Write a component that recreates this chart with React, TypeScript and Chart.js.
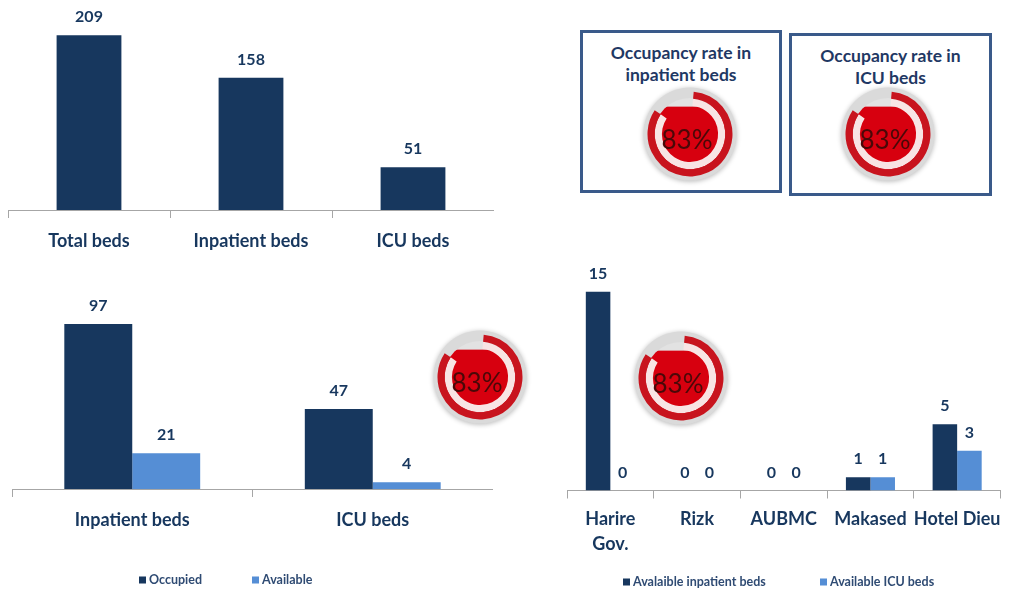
import React, { useEffect, useRef } from "react";
import { Chart, registerables } from "chart.js";

Chart.register(...registerables);

// ---------- data ----------
const bedCategories = ["Total beds", "Inpatient beds", "ICU beds"];
const bedCounts = [209, 158, 51];

const statusCategories = ["Inpatient beds", "ICU beds"];
const occupiedBeds = [97, 47];
const availableBeds = [21, 4];

const hospitals: (string | string[])[] = [["Harire", "Gov."], "Rizk", "AUBMC", "Makased", "Hotel Dieu"];
const availInpatientBeds = [15, 0, 0, 1, 5];
const availIcuBeds = [0, 0, 0, 1, 3];

const gaugeValues = [83, 83, 83, 83];
const gaugeTitles = [
  ["Occupancy rate in", "inpatient beds"],
  ["Occupancy rate in", "ICU beds"],
];

// ---------- styles ----------
const NAVY = "#17375E";
const LIGHT = "#558ED5";
const AXIS = "#A6A6A6";
const FONT = "Lato";

const valueLabels = {
  id: "valueLabels",
  afterDatasetsDraw(chart: any) {
    const ctx = chart.ctx;
    ctx.save();
    ctx.font = `bold 16px ${FONT}`;
    ctx.fillStyle = NAVY;
    ctx.textAlign = "center";
    ctx.textBaseline = "middle";
    chart.data.datasets.forEach((ds: any, i: number) => {
      const meta = chart.getDatasetMeta(i);
      meta.data.forEach((el: any, j: number) => {
        ctx.fillText(String(ds.data[j]), el.x, el.y - 18);
      });
    });
    ctx.restore();
  },
};

const customLegend = {
  id: "customLegend",
  afterDraw(chart: any, _args: any, opts: any) {
    if (!opts || !opts.xs) return;
    const ctx = chart.ctx;
    ctx.save();
    ctx.font = `bold 12.5px ${FONT}`;
    ctx.textBaseline = "middle";
    ctx.textAlign = "left";
    chart.data.datasets.forEach((ds: any, i: number) => {
      const x = opts.xs[i];
      const y = opts.y;
      ctx.fillStyle = ds.backgroundColor;
      ctx.fillRect(x, y - 3.5, 7, 7);
      ctx.fillStyle = "#2F4B73";
      ctx.fillText(ds.label, x + 10, y);
    });
    ctx.restore();
  },
};

function xScale(fontSize: number, lineHeight: number, padding: number) {
  return {
    grid: {
      display: true,
      drawOnChartArea: false,
      drawTicks: true,
      tickLength: 8,
      color: AXIS,
      offset: true,
    },
    border: { display: true, color: AXIS, width: 1 },
    ticks: {
      font: { family: FONT, weight: "bold", size: fontSize, lineHeight },
      color: NAVY,
      padding,
      autoSkip: false,
      maxRotation: 0,
      minRotation: 0,
    },
  };
}

function ChartCanvas({ left, top, width, height, config }: any) {
  const ref = useRef<HTMLCanvasElement | null>(null);
  useEffect(() => {
    if (!ref.current) return;
    const chart = new Chart(ref.current, config());
    return () => chart.destroy();
  }, []);
  return (
    <canvas
      ref={ref}
      width={width}
      height={height}
      style={{ position: "absolute", left, top, width, height }}
    />
  );
}

const gaugeDecor = {
  id: "gaugeDecor",
  beforeDatasetsDraw(chart: any) {
    const ctx = chart.ctx;
    const ca = chart.chartArea;
    const cx = (ca.left + ca.right) / 2;
    const cy = (ca.top + ca.bottom) / 2;
    const ds = chart.data.datasets[0].data;
    const frac = ds[0] / (ds[0] + ds[1]);
    ctx.save();
    ctx.shadowColor = "rgba(0,0,0,0.28)";
    ctx.shadowBlur = 5;
    ctx.shadowOffsetY = 1;
    ctx.beginPath();
    ctx.arc(cx, cy, 46.5, 0, Math.PI * 2);
    ctx.fillStyle = "#DADADA";
    ctx.fill();
    ctx.restore();
    // liquid
    const r = 36;
    ctx.save();
    ctx.beginPath();
    ctx.arc(cx, cy, r, 0, Math.PI * 2);
    ctx.fillStyle = "#E2E2E2";
    ctx.fill();
    ctx.clip();
    const level = cy + r - 2 * r * Math.min(1, frac + 0.05);
    ctx.fillStyle = "#D7000F";
    ctx.fillRect(cx - r, level, 2 * r, cy + r - level + 1);
    ctx.restore();
  },
  afterDatasetsDraw(chart: any) {
    const ctx = chart.ctx;
    const ca = chart.chartArea;
    const cx = (ca.left + ca.right) / 2;
    const cy = (ca.top + ca.bottom) / 2;
    const ds = chart.data.datasets[0].data;
    ctx.save();
    ctx.font = `26px ${FONT}`;
    ctx.fillStyle = "#4A0808";
    ctx.textAlign = "center";
    ctx.textBaseline = "middle";
    ctx.fillText(`${ds[0]}%`, cx - 3, cy + 7);
    ctx.restore();
  },
};

function Gauge({ value, cx, cy }: any) {
  const size = 112;
  return (
    <ChartCanvas
      left={cx - size / 2}
      top={cy - size / 2}
      width={size}
      height={size}
      config={() => ({
        type: "doughnut",
        data: {
          labels: ["Occupied", "Free"],
          datasets: [
            {
              data: [value, 100 - value],
              backgroundColor: ["#C8141E", "rgba(0,0,0,0)"],
              borderWidth: 0,
            },
            {
              data: [value, 100 - value],
              backgroundColor: ["#F8E4E4", "rgba(0,0,0,0)"],
              borderWidth: 0,
            },
          ],
        },
        options: {
          responsive: false,
          animation: false,
          events: [],
          radius: 42.5,
          cutout: 37,
          rotation: 5,
          circumference: 360,
          layout: { padding: 0 },
          plugins: { legend: { display: false }, tooltip: { enabled: false } },
        },
        plugins: [gaugeDecor],
      })}
    />
  );
}

function TitleBox({ left, top, width, height, lines }: any) {
  return (
    <div
      style={{
        position: "absolute",
        left,
        top,
        width,
        height,
        boxSizing: "border-box",
        border: "3px solid #3A5A8A",
        fontFamily: FONT,
        fontWeight: 700,
        fontSize: 17.5,
        lineHeight: "22px",
        color: "#1F3864",
        textAlign: "center",
        paddingTop: 9,
      }}
    >
      {lines.map((l: string, i: number) => (
        <div key={i}>{l}</div>
      ))}
    </div>
  );
}

export default function App() {
  return (
    <div
      style={{
        position: "absolute",
        left: 0,
        top: 0,
        width: 1009,
        height: 592,
        background: "#FFFFFF",
        overflow: "hidden",
        fontFamily: FONT,
      }}
    >
      {/* Chart 1: total beds */}
      <ChartCanvas
        left={8}
        top={0}
        width={486}
        height={275}
        config={() => ({
          type: "bar",
          data: {
            labels: bedCategories,
            datasets: [
              {
                label: "Beds",
                data: bedCounts,
                backgroundColor: NAVY,
                categoryPercentage: 1,
                barPercentage: 0.4,
              },
            ],
          },
          options: {
            responsive: false,
            animation: false,
            events: [],
            layout: { padding: { top: 0, bottom: 11.4, left: 0, right: 0 } },
            plugins: { legend: { display: false }, tooltip: { enabled: false } },
            scales: {
              x: xScale(18, 1.2, 12),
              y: { display: false, min: 0, max: 251 },
            },
          },
          plugins: [valueLabels],
        })}
      />

      {/* Chart 2: occupied / available */}
      <ChartCanvas
        left={12}
        top={260}
        width={481}
        height={332}
        config={() => ({
          type: "bar",
          data: {
            labels: statusCategories,
            datasets: [
              {
                label: "Occupied",
                data: occupiedBeds,
                backgroundColor: NAVY,
                categoryPercentage: 0.565,
                barPercentage: 1,
              },
              {
                label: "Available",
                data: availableBeds,
                backgroundColor: LIGHT,
                categoryPercentage: 0.565,
                barPercentage: 1,
              },
            ],
          },
          options: {
            responsive: false,
            animation: false,
            events: [],
            layout: { padding: { top: 0, bottom: 49.4, left: 0, right: 0 } },
            plugins: {
              legend: { display: false },
              tooltip: { enabled: false },
              customLegend: { xs: [127, 240], y: 320 },
            },
            scales: {
              x: xScale(18, 1.2, 12),
              y: { display: false, min: 0, max: 134.7 },
            },
          },
          plugins: [valueLabels, customLegend],
        })}
      />

      {/* Chart 3: available beds per hospital */}
      <ChartCanvas
        left={567}
        top={260}
        width={442}
        height={332}
        config={() => ({
          type: "bar",
          data: {
            labels: hospitals,
            datasets: [
              {
                label: "Avalaible inpatient beds",
                data: availInpatientBeds,
                backgroundColor: NAVY,
                categoryPercentage: 0.566,
                barPercentage: 1,
              },
              {
                label: "Available ICU beds",
                data: availIcuBeds,
                backgroundColor: LIGHT,
                categoryPercentage: 0.566,
                barPercentage: 1,
              },
            ],
          },
          options: {
            responsive: false,
            animation: false,
            events: [],
            layout: { padding: { top: 0, bottom: 26.5, left: 0, right: 0 } },
            plugins: {
              legend: { display: false },
              tooltip: { enabled: false },
              customLegend: { xs: [56, 253], y: 322 },
            },
            scales: {
              x: xScale(18, 25 / 18, 8.5),
              y: { display: false, min: 0, max: 17.4 },
            },
          },
          plugins: [valueLabels, customLegend],
        })}
      />

      {/* Title boxes */}
      <TitleBox left={580} top={30} width={202} height={163} lines={gaugeTitles[0]} />
      <TitleBox left={789} top={33} width={203} height={163} lines={gaugeTitles[1]} />

      {/* Gauges */}
      <Gauge value={gaugeValues[0]} cx={689.5} cy={133.5} />
      <Gauge value={gaugeValues[1]} cx={888} cy={134} />
      <Gauge value={gaugeValues[2]} cx={480} cy={377} />
      <Gauge value={gaugeValues[3]} cx={681} cy={378} />
    </div>
  );
}
